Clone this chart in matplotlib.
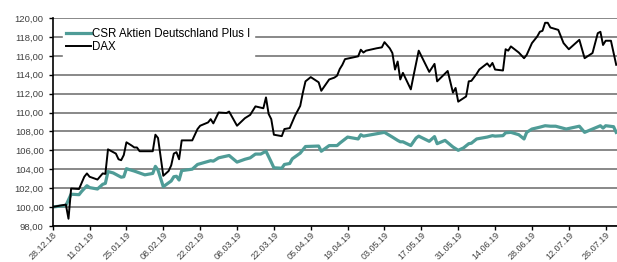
import pandas as pd
import matplotlib.pyplot as plt
import matplotlib.dates as mdates
from matplotlib.ticker import FuncFormatter

# values, indexed as days since 28.12.2018
dax_day = [0, 5, 6, 7, 10, 12, 13, 14, 17, 19, 20, 21, 24, 25, 26, 27, 28, 30, 31, 32, 33, 38, 39, 40,
           42, 44, 45, 46, 47, 48, 49, 53, 55, 56, 59, 60, 61, 63, 66, 67, 70, 73, 75, 77, 80, 81, 82, 83,
           84, 87, 88, 90, 92, 94, 95, 96, 98, 101, 102, 105, 107, 108, 109, 110, 111, 116, 117, 118, 119,
           123, 125, 126, 128, 129, 130, 131, 132, 133, 136, 137, 139, 143, 145, 146, 150, 152, 153, 154,
           157, 158, 159, 161, 162, 165, 166, 167, 168, 171, 172, 173, 174, 177, 179, 180, 182, 184, 185,
           186, 187, 188, 189, 192, 194, 196, 200, 202, 205, 207, 208, 209, 210, 212, 214]
dax = [100.0, 100.25, 98.75, 101.95, 101.9, 103.2, 103.55, 103.2, 102.9, 103.55, 103.5, 106.1, 105.65,
       105.05, 104.95, 105.5, 106.85, 106.5, 106.3, 106.3, 105.9, 105.9, 107.65, 107.3,
       103.3, 103.8, 104.4, 105.65, 105.8, 105.05, 107.05, 107.05, 108.25, 108.6, 108.95, 109.3, 108.85,
       110.0, 109.95, 110.1, 108.6, 109.4, 109.75, 110.65, 110.45, 111.6, 109.85, 109.3,
       107.65, 107.5, 108.25, 108.35, 109.65, 110.7, 112.1, 113.3, 113.75, 113.2, 112.3, 113.5, 113.7,
       113.9, 114.6, 115.05, 115.65, 115.95, 116.65, 116.35, 116.55,
       116.8, 116.9, 117.45, 116.8, 116.3, 114.55, 115.4, 113.5, 114.2, 112.45, 113.85, 116.55, 114.3,
       115.15, 113.3, 114.4, 112.1, 112.6, 111.15,
       111.7, 113.3, 113.35, 114.1, 114.55, 115.2, 114.85, 115.25, 114.55, 114.45, 116.7, 116.55, 117.0,
       116.35, 115.75, 116.1, 117.35, 118.05, 118.55,
       118.65, 119.5, 119.5, 119.0, 118.75, 117.35, 116.7, 117.7, 115.75, 116.3, 118.4, 118.55, 117.15,
       117.6, 117.6, 115.05]

csr_day = [0, 5, 7, 10, 11, 13, 14, 17, 19, 20, 21, 23, 26, 27, 28, 31, 35, 38, 39, 40, 42, 43, 45, 46,
           47, 48, 49, 53, 55, 60, 61, 63, 67, 70, 73, 75, 77, 79, 81, 83, 84, 87, 88, 90, 91, 94, 96,
           101, 102, 105, 108, 109, 112, 116, 117, 118, 123, 126, 129, 131, 132, 133, 136, 138, 139, 143,
           145, 146, 149, 152, 154, 156, 158, 159, 161, 165, 167, 168, 171, 172, 174, 177, 179, 180, 182,
           185, 187, 189, 191, 195, 200, 202, 205, 208, 209, 210, 213, 214]
csr = [100.0, 100.15, 101.35, 101.3, 101.65, 102.25, 102.05, 101.9, 102.4, 102.5, 103.75, 103.6, 103.15,
       103.2, 104.05, 103.8, 103.4, 103.55, 104.3, 103.9, 102.15, 102.35, 102.75, 103.2,
       103.25, 102.85, 103.85, 104.0, 104.5, 104.9, 104.85, 105.2, 105.45, 104.75, 105.05, 105.2, 105.6,
       105.6, 105.9, 104.75, 104.15, 104.1, 104.5, 104.6, 105.1, 105.7, 106.4,
       106.45, 105.9, 106.5, 106.5, 106.75, 107.4, 107.2, 107.65, 107.5, 107.75, 107.9, 107.4, 107.05,
       106.9, 106.9, 106.5, 107.3, 107.5, 106.95,
       107.45, 106.7, 107.05, 106.35, 106.0, 106.25, 106.7, 106.75, 107.2, 107.4, 107.55, 107.5, 107.55,
       107.85, 107.9, 107.65, 107.2, 107.9, 108.25,
       108.45, 108.6, 108.55, 108.55, 108.25, 108.55, 107.9, 108.25, 108.6, 108.35, 108.6, 108.5, 107.9]

start = pd.Timestamp('2018-12-28')
dax_dates = start + pd.to_timedelta(dax_day, unit='D')
csr_dates = start + pd.to_timedelta(csr_day, unit='D')
tick_dates = pd.date_range('2018-12-28', '2019-07-26', freq='14D')

plt.rcParams['font.family'] = ['Liberation Sans', 'DejaVu Sans']

fig = plt.figure(figsize=(6.17, 2.62), dpi=100)
ax = fig.add_axes([0.0854, 0.138, 0.9146, 0.793])

# grid behind the lines
ax.set_axisbelow(True)
ax.yaxis.grid(True, color='#7f7f7f', linewidth=1.3)

ax.plot(csr_dates, csr, color='#4f9c97', linewidth=2.3, label='CSR Aktien Deutschland Plus I')
ax.plot(dax_dates, dax, color='black', linewidth=1.4, label='DAX')

ax.set_ylim(98, 120)
ax.set_yticks(range(98, 121, 2))
ax.yaxis.set_major_formatter(FuncFormatter(lambda v, p: f'{v:.2f}'.replace('.', ',')))
ax.set_xlim(start, start + pd.Timedelta(days=214.3))
ax.set_xticks(tick_dates)
ax.xaxis.set_major_formatter(mdates.DateFormatter('%d.%m.%y'))

ax.tick_params(axis='y', labelsize=6.8, colors='black', labelcolor='#404040', length=3, width=1)
ax.tick_params(axis='x', labelsize=6.5, colors='black', labelcolor='#404040', length=3, width=1, pad=0.5)
plt.setp(ax.get_xticklabels(), rotation=45, ha='right', rotation_mode='anchor')

for s in ['top', 'right']:
    ax.spines[s].set_visible(False)
ax.spines['left'].set_linewidth(1.2)
ax.spines['bottom'].set_linewidth(1.2)

leg = ax.legend(loc='upper left', bbox_to_anchor=(0.018, 0.97), fontsize=8.3, frameon=True,
                fancybox=False, edgecolor='white', framealpha=1, handlelength=2.1,
                handletextpad=0.15, labelspacing=0.15, borderpad=0.3, borderaxespad=0)

plt.savefig('out.png', dpi=100)
